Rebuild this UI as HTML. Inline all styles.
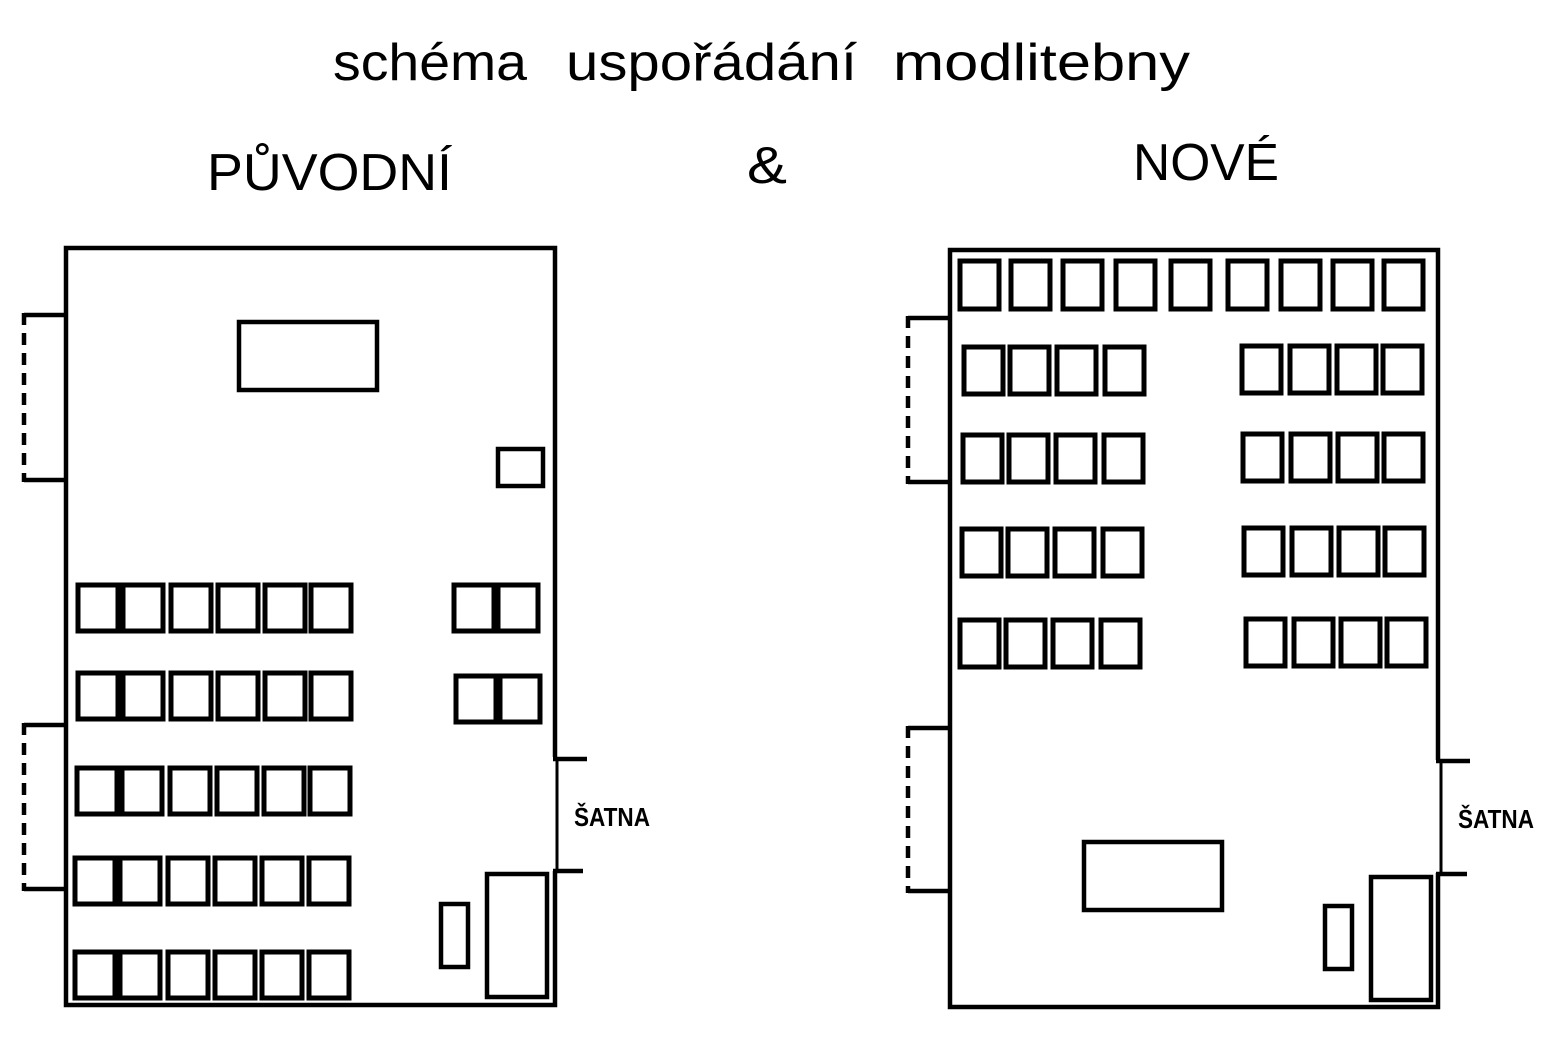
<!DOCTYPE html>
<html><head><meta charset="utf-8"><style>
html,body{margin:0;padding:0;background:#fff;}
svg{display:block;}
text{font-family:"Liberation Sans",sans-serif;fill:#000;}
</style></head><body>
<svg width="1550" height="1058" viewBox="0 0 1550 1058" xmlns="http://www.w3.org/2000/svg">
<g>
<text x="333" y="80" font-size="52" textLength="194" lengthAdjust="spacingAndGlyphs">schéma</text>
<text x="566" y="80" font-size="52" textLength="291" lengthAdjust="spacingAndGlyphs">uspořádání</text>
<text x="893" y="80" font-size="52" textLength="297" lengthAdjust="spacingAndGlyphs">modlitebny</text>
<text x="207" y="190" font-size="52" textLength="245" lengthAdjust="spacingAndGlyphs">PŮVODNÍ</text>
<text x="747" y="183" font-size="52" textLength="40" lengthAdjust="spacingAndGlyphs">&amp;</text>
<text x="1133" y="180" font-size="52" textLength="146" lengthAdjust="spacingAndGlyphs">NOVÉ</text>
<text x="574" y="826" font-size="26" font-weight="bold" textLength="76" lengthAdjust="spacingAndGlyphs">ŠATNA</text>
<text x="1458" y="828" font-size="26" font-weight="bold" textLength="76" lengthAdjust="spacingAndGlyphs">ŠATNA</text>
</g>
<g fill="none" stroke="#000" stroke-width="4.5">
<path d="M555 757 L555 248 L66 248 L66 1005 L555 1005 L555 871"/>
<path d="M553 759 L587 759"/>
<path d="M553 871 L583 871"/>
<path d="M557 760 L557 871" stroke-width="3"/>
<path d="M24 315 L66 315 M24 480 L66 480"/>
<path d="M24 313 L24 482" stroke-dasharray="12 8"/>
<path d="M24 725 L66 725 M24 889 L66 889"/>
<path d="M24 723 L24 891" stroke-dasharray="12 8"/>
<rect x="239" y="322" width="138" height="68"/>
<rect x="498" y="449" width="45" height="37"/>
<rect x="441" y="904" width="27" height="63"/>
<rect x="487" y="874" width="60" height="123"/>
<g stroke-width="5">
<rect x="78" y="585" width="40" height="46"/><rect x="123" y="585" width="40" height="46"/><rect x="171" y="585" width="40" height="46"/><rect x="218" y="585" width="40" height="46"/><rect x="265" y="585" width="40" height="46"/><rect x="311" y="585" width="40" height="46"/>
<rect x="454" y="585" width="40" height="46"/><rect x="498" y="585" width="40" height="46"/>
<rect x="78" y="673" width="40" height="46"/><rect x="123" y="673" width="40" height="46"/><rect x="171" y="673" width="40" height="46"/><rect x="218" y="673" width="40" height="46"/><rect x="265" y="673" width="40" height="46"/><rect x="311" y="673" width="40" height="46"/>
<rect x="456" y="676" width="40" height="46"/><rect x="500" y="676" width="40" height="46"/>
<rect x="77" y="768" width="40" height="46"/><rect x="122" y="768" width="40" height="46"/><rect x="170" y="768" width="40" height="46"/><rect x="217" y="768" width="40" height="46"/><rect x="264" y="768" width="40" height="46"/><rect x="310" y="768" width="40" height="46"/>
<rect x="75" y="858" width="40" height="46"/><rect x="120" y="858" width="40" height="46"/><rect x="168" y="858" width="40" height="46"/><rect x="215" y="858" width="40" height="46"/><rect x="262" y="858" width="40" height="46"/><rect x="309" y="858" width="40" height="46"/>
<rect x="75" y="952" width="40" height="46"/><rect x="120" y="952" width="40" height="46"/><rect x="168" y="952" width="40" height="46"/><rect x="215" y="952" width="40" height="46"/><rect x="262" y="952" width="40" height="46"/><rect x="309" y="952" width="40" height="46"/>
</g>
<path d="M1438 760 L1438 250 L950 250 L950 1007 L1438 1007 L1438 873"/>
<path d="M1436 761 L1470 761"/>
<path d="M1436 874 L1467 874"/>
<path d="M1441 762 L1441 873" stroke-width="3"/>
<path d="M908 318 L950 318 M908 482 L950 482"/>
<path d="M908 316 L908 484" stroke-dasharray="12 8"/>
<path d="M908 728 L950 728 M908 891 L950 891"/>
<path d="M908 726 L908 893" stroke-dasharray="12 8"/>
<rect x="1084" y="842" width="138" height="68"/>
<rect x="1325" y="906" width="27" height="63"/>
<rect x="1371" y="877" width="60" height="123"/>
<g stroke-width="5">
<rect x="960" y="261" width="39" height="48"/><rect x="1011" y="261" width="39" height="48"/><rect x="1063" y="261" width="39" height="48"/><rect x="1116" y="261" width="39" height="48"/><rect x="1171" y="261" width="39" height="48"/><rect x="1228" y="261" width="39" height="48"/><rect x="1281" y="261" width="39" height="48"/><rect x="1333" y="261" width="39" height="48"/><rect x="1384" y="261" width="39" height="48"/>
<rect x="964" y="347" width="39" height="47"/><rect x="1010" y="347" width="39" height="47"/><rect x="1057" y="347" width="39" height="47"/><rect x="1105" y="347" width="39" height="47"/>
<rect x="1242" y="346" width="39" height="47"/><rect x="1290" y="346" width="39" height="47"/><rect x="1337" y="346" width="39" height="47"/><rect x="1383" y="346" width="39" height="47"/>
<rect x="963" y="435" width="39" height="47"/><rect x="1009" y="435" width="39" height="47"/><rect x="1056" y="435" width="39" height="47"/><rect x="1104" y="435" width="39" height="47"/>
<rect x="1243" y="434" width="39" height="47"/><rect x="1291" y="434" width="39" height="47"/><rect x="1338" y="434" width="39" height="47"/><rect x="1384" y="434" width="39" height="47"/>
<rect x="962" y="529" width="39" height="47"/><rect x="1008" y="529" width="39" height="47"/><rect x="1055" y="529" width="39" height="47"/><rect x="1103" y="529" width="39" height="47"/>
<rect x="1244" y="528" width="39" height="47"/><rect x="1292" y="528" width="39" height="47"/><rect x="1339" y="528" width="39" height="47"/><rect x="1385" y="528" width="39" height="47"/>
<rect x="960" y="620" width="39" height="47"/><rect x="1006" y="620" width="39" height="47"/><rect x="1053" y="620" width="39" height="47"/><rect x="1101" y="620" width="39" height="47"/>
<rect x="1246" y="619" width="39" height="47"/><rect x="1294" y="619" width="39" height="47"/><rect x="1341" y="619" width="39" height="47"/><rect x="1387" y="619" width="39" height="47"/>
</g>
</g>
</svg>
</body></html>
